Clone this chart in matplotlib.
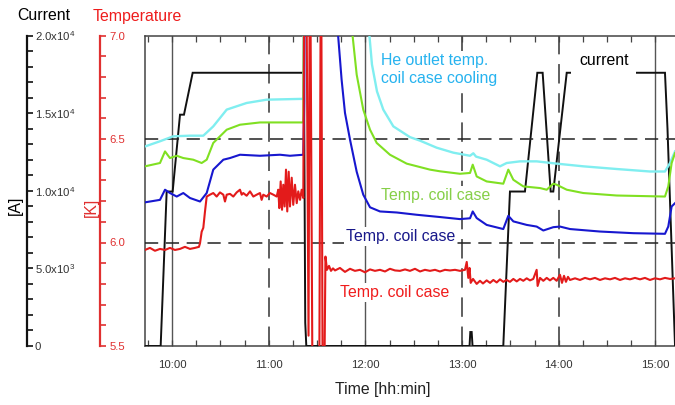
import matplotlib
matplotlib.use('Agg')
import matplotlib.pyplot as plt
from matplotlib.ticker import MultipleLocator

plt.rcParams['font.family'] = ['Liberation Sans', 'DejaVu Sans']
plt.rcParams['mathtext.fontset'] = 'custom'
plt.rcParams['mathtext.rm'] = 'Liberation Sans'
plt.rcParams['mathtext.it'] = 'Liberation Sans:italic'
plt.rcParams['mathtext.bf'] = 'Liberation Sans:bold'
plt.rcParams['mathtext.default'] = 'regular'
plt.rcParams['lines.scale_dashes'] = False

# ---------------- data (time in decimal hours) ----------------
current_t = [9.721, 9.883, 9.945, 10.007, 10.083, 10.124, 10.214, 11.365, 11.378, 11.389,
             13.077, 13.085, 13.099, 13.108, 13.426, 13.495, 13.650, 13.778, 13.833,
             13.916, 13.943, 14.082, 15.098, 15.124, 15.202]
current_A = [0, 0, 9950, 9950, 14900, 14900, 17600, 17600, 1500, 0,
             0, 900, 900, 0, 0, 9950, 9950, 17600, 17600,
             9950, 9950, 17600, 17600, 14000, 0]

cyan_t = [9.721, 9.876, 10.013, 10.186, 10.324, 10.427, 10.566, 10.772, 10.979, 11.358,
          11.368, 12.022, 12.032, 12.068, 12.120, 12.185, 12.289, 12.461, 12.565, 12.737,
          12.909, 13.082, 13.116, 13.144, 13.254, 13.392, 13.461, 13.599, 13.771, 13.978,
          14.253, 14.599, 14.943, 15.098, 15.150, 15.202]
cyan_K = [6.464, 6.489, 6.513, 6.516, 6.516, 6.561, 6.642, 6.674, 6.690, 6.694,
          7.600, 7.600, 7.050, 6.860, 6.730, 6.642, 6.561, 6.509, 6.492, 6.458,
          6.434, 6.419, 6.431, 6.415, 6.400, 6.368, 6.384, 6.392, 6.392, 6.381,
          6.368, 6.355, 6.343, 6.343, 6.384, 6.440]

green_t = [9.721, 9.876, 9.928, 9.979, 10.049, 10.117, 10.220, 10.307, 10.359, 10.427,
           10.566, 10.703, 10.910, 11.358, 11.370, 11.851, 11.856, 11.910, 11.978, 12.048,
           12.117, 12.254, 12.427, 12.668, 12.771, 12.978, 13.082, 13.110, 13.151, 13.254,
           13.426, 13.478, 13.530, 13.633, 13.806, 13.875, 13.943, 13.978, 14.082, 14.253,
           14.599, 15.098, 15.132, 15.167, 15.202]
green_K = [6.368, 6.384, 6.440, 6.408, 6.419, 6.408, 6.400, 6.384, 6.400, 6.481,
           6.545, 6.569, 6.580, 6.580, 7.600, 7.600, 7.050, 6.811, 6.642, 6.545,
           6.481, 6.424, 6.381, 6.352, 6.344, 6.332, 6.336, 6.376, 6.319, 6.295,
           6.284, 6.352, 6.303, 6.271, 6.263, 6.255, 6.284, 6.279, 6.255, 6.239,
           6.227, 6.222, 6.271, 6.384, 6.432]

blue_t = [9.721, 9.876, 9.928, 9.979, 10.049, 10.117, 10.186, 10.290, 10.359, 10.427,
          10.531, 10.600, 10.703, 10.910, 11.117, 11.220, 11.358, 11.368, 11.375, 11.696,
          11.701, 11.754, 11.789, 11.841, 11.910, 11.978, 12.048, 12.151, 12.324, 12.530,
          12.771, 12.978, 13.082, 13.110, 13.151, 13.254, 13.426, 13.478, 13.530, 13.668,
          13.771, 13.840, 13.943, 14.012, 14.116, 14.426, 14.771, 15.098, 15.132, 15.167,
          15.202]
blue_K = [6.194, 6.206, 6.255, 6.239, 6.222, 6.239, 6.215, 6.198, 6.239, 6.352,
          6.400, 6.408, 6.424, 6.419, 6.424, 6.419, 6.424, 6.682, 7.600, 7.600,
          7.100, 6.787, 6.626, 6.497, 6.342, 6.231, 6.170, 6.150, 6.145, 6.134,
          6.123, 6.113, 6.117, 6.150, 6.118, 6.085, 6.065, 6.129, 6.102, 6.085,
          6.077, 6.058, 6.074, 6.077, 6.065, 6.053, 6.045, 6.042, 6.077, 6.174,
          6.190]

red_t = [9.721, 9.772, 9.824, 9.876, 9.928, 9.979, 10.031, 10.083, 10.134, 10.186,
         10.238, 10.279, 10.290, 10.307, 10.324, 10.341, 10.359, 10.393, 10.427, 10.462,
         10.496, 10.531, 10.548, 10.566, 10.600, 10.634, 10.669, 10.703, 10.721, 10.737,
         10.772, 10.807, 10.841, 10.876, 10.910, 10.927, 10.944, 10.979, 11.013, 11.048,
         11.083, 11.099, 11.110, 11.124, 11.138, 11.151, 11.165, 11.179, 11.192, 11.207,
         11.220, 11.238, 11.254, 11.272, 11.290, 11.306, 11.324, 11.341, 11.358,
         11.370, 11.386, 11.412, 11.427, 11.453, 11.523, 11.541, 11.558, 11.575, 11.587,
         11.603, 11.624, 11.644, 11.665, 11.686, 11.737, 11.789, 11.841, 11.892, 11.944,
         11.996, 12.048, 12.099, 12.151, 12.203, 12.254, 12.306, 12.358, 12.410, 12.461,
         12.513, 12.565, 12.616, 12.668, 12.720, 12.771, 12.823, 12.875, 12.927, 12.978,
         13.030, 13.048, 13.064, 13.077, 13.089, 13.113, 13.151, 13.185, 13.216, 13.254,
         13.289, 13.323, 13.358, 13.392, 13.426, 13.461, 13.495, 13.530, 13.565, 13.599,
         13.633, 13.668, 13.702, 13.736, 13.771, 13.781, 13.806, 13.840, 13.875, 13.909,
         13.943, 13.978, 14.012, 14.033, 14.054, 14.074, 14.095, 14.116, 14.168, 14.219,
         14.271, 14.323, 14.374, 14.426, 14.478, 14.530, 14.581, 14.633, 14.685, 14.736,
         14.788, 14.840, 14.891, 14.943, 14.995, 15.047, 15.098, 15.150, 15.202]
red_K = [5.964, 5.974, 5.960, 5.969, 5.964, 5.974, 5.964, 5.969, 5.979, 5.969,
         5.974, 5.979, 5.997, 6.052, 6.071, 6.148, 6.222, 6.231, 6.239, 6.222,
         6.242, 6.231, 6.198, 6.231, 6.235, 6.222, 6.242, 6.255, 6.231, 6.239,
         6.226, 6.247, 6.222, 6.231, 6.239, 6.206, 6.231, 6.222, 6.239, 6.231,
         6.222, 6.255, 6.166, 6.295, 6.158, 6.279, 6.174, 6.352, 6.150, 6.342,
         6.174, 6.313, 6.182, 6.279, 6.190, 6.247, 6.206, 6.255, 6.215,
         7.600, 7.600, 5.550, 7.600, 5.300, 5.300, 7.600, 5.300, 5.300, 5.932,
         5.868, 5.887, 5.863, 5.875, 5.865, 5.877, 5.858, 5.873, 5.863, 5.868,
         5.856, 5.870, 5.863, 5.868, 5.860, 5.873, 5.865, 5.863, 5.870, 5.863,
         5.873, 5.860, 5.868, 5.863, 5.868, 5.860, 5.868, 5.865, 5.868, 5.863,
         5.868, 5.906, 5.829, 5.877, 5.805, 5.824, 5.800, 5.815, 5.802, 5.817,
         5.805, 5.819, 5.807, 5.822, 5.810, 5.819, 5.810, 5.824, 5.812, 5.824,
         5.815, 5.827, 5.817, 5.824, 5.868, 5.790, 5.829, 5.815, 5.829, 5.817,
         5.829, 5.815, 5.844, 5.805, 5.839, 5.810, 5.834, 5.819, 5.827, 5.819,
         5.829, 5.822, 5.829, 5.819, 5.827, 5.822, 5.829, 5.819, 5.827, 5.822,
         5.829, 5.822, 5.829, 5.819, 5.827, 5.822, 5.829, 5.824, 5.827]

hour_ticks = [10, 11, 12, 13, 14, 15]
hour_labels = ['10:00', '11:00', '12:00', '13:00', '14:00', '15:00']
hour_grid_styles = ['solid', 'dashed', 'solid', 'dashed', 'dashed', 'solid']
temp_grid = [6.0, 6.5]
current_ticks = [0, 5000, 10000, 15000, 20000]
current_tick_labels = ['0', '5.0x10$^3$', '1.0x10$^4$', '1.5x10$^4$', '2.0x10$^4$']
temp_ticks = [5.5, 6.0, 6.5, 7.0]
temp_tick_labels = ['5.5', '6.0', '6.5', '7.0']

# ---------------- layout ----------------
W, H = 675, 405
fig = plt.figure(figsize=(6.75, 4.05), dpi=100)
fig.patch.set_facecolor('white')


def fx(px):
    return px / W


def fy(py):
    return 1 - py / H


TOP, BOT = 35.5, 346
rect = [fx(145), fy(BOT), fx(676) - fx(145), fy(TOP) - fy(BOT)]
XLIM = (9.721, 15.212)
ILIM = (0, 20000)
TLIM = (5.5, 7.0)

C_BLACK = '#111111'
C_CYAN = '#80eef0'
C_GREEN = '#80e022'
C_BLUE = '#1717cf'
C_RED = '#e31b1b'
C_AXRED = '#e03030'

# current axes (bottom layer)
axI = fig.add_axes(rect)
axI.set_xlim(*XLIM)
axI.set_ylim(*ILIM)
for h, st in zip(hour_ticks, hour_grid_styles):
    if st == 'solid':
        axI.axvline(h, color='#555555', lw=1.0, zorder=1)
    else:
        ln = axI.axvline(h, color='#333333', lw=1.1, zorder=1)
        ln.set_dashes((14, 7))
axI.plot(current_t, current_A, color=C_BLACK, lw=1.4, zorder=3, solid_joinstyle='miter')
axI.set_xticks(hour_ticks)
axI.set_xticklabels(hour_labels)
axI.xaxis.set_minor_locator(MultipleLocator(0.25))
axI.tick_params(axis='x', which='both', direction='in', top=True, bottom=True,
                length=4, width=0.9, color='#444444', labelsize=8.2, labelcolor='#333333', pad=10)
axI.tick_params(axis='y', which='both', left=False, right=False, labelleft=False)
for s in ['left', 'top', 'bottom']:
    axI.spines[s].set_color('#444444')
    axI.spines[s].set_linewidth(1.1)
axI.spines['right'].set_visible(False)

# temperature axes (top layer)
axT = fig.add_axes(rect, facecolor='none')
axT.set_xlim(*XLIM)
axT.set_ylim(*TLIM)
for v in temp_grid:
    ln = axT.axhline(v, color='#222222', lw=1.1, zorder=1)
    ln.set_dashes((9.5, 5.5))
axT.plot(cyan_t, cyan_K, color=C_CYAN, lw=1.7, zorder=3)
axT.plot(green_t, green_K, color=C_GREEN, lw=1.5, zorder=3)
axT.plot(blue_t, blue_K, color=C_BLUE, lw=1.5, zorder=3)
axT.plot(red_t, red_K, color=C_RED, lw=1.5, zorder=4)
axT.set_xticks([])
axT.set_yticks([])
for s in axT.spines.values():
    s.set_visible(False)

# left current scale
axC = fig.add_axes([fx(27), fy(BOT), 0.0001, fy(TOP) - fy(BOT)])
axC.set_ylim(*ILIM)
axC.patch.set_visible(False)
for s in ['left', 'top', 'bottom']:
    axC.spines[s].set_visible(False)
axC.spines['right'].set_color(C_BLACK)
axC.spines['right'].set_linewidth(1.6)
axC.set_xticks([])
axC.yaxis.tick_right()
axC.set_yticks(current_ticks)
axC.set_yticklabels(current_tick_labels)
axC.yaxis.set_minor_locator(MultipleLocator(1000))
axC.tick_params(axis='y', which='both', direction='out', length=4, width=1.2,
                color=C_BLACK, labelsize=8.2, labelcolor='#333333', pad=1.5)

# temperature scale
axK = fig.add_axes([fx(100), fy(BOT), 0.0001, fy(TOP) - fy(BOT)])
axK.set_ylim(*TLIM)
axK.patch.set_visible(False)
for s in ['left', 'top', 'bottom']:
    axK.spines[s].set_visible(False)
axK.spines['right'].set_color(C_AXRED)
axK.spines['right'].set_linewidth(1.6)
axK.set_xticks([])
axK.yaxis.tick_right()
axK.set_yticks(temp_ticks)
axK.set_yticklabels(temp_tick_labels)
axK.yaxis.set_minor_locator(MultipleLocator(0.1))
axK.tick_params(axis='y', which='both', direction='out', length=4, width=1.2,
                color=C_AXRED, labelsize=8.2, labelcolor=C_AXRED, pad=3)

# ---------------- texts ----------------
FS = 11.4
fig.text(fx(17), fy(20.5), 'Current', fontsize=FS, color='black', va='baseline')
fig.text(fx(93), fy(20.5), 'Temperature', fontsize=FS, color='#ee1c1c', va='baseline')
fig.text(fx(15), fy(205), '[A]', fontsize=FS, color='black', rotation=90,
         ha='center', va='center')
fig.text(fx(91), fy(207), '[K]', fontsize=FS, color=C_AXRED, rotation=90,
         ha='center', va='center')
fig.text(fx(383), fy(394), 'Time [hh:min]', fontsize=FS, color='#222222',
         ha='center', va='baseline')

box = dict(boxstyle='square,pad=0.12', fc='white', ec='none')
fig.text(fx(381), fy(65), 'He outlet temp.', fontsize=FS, color='#27b3ef',
         va='baseline', bbox=box, zorder=5)
fig.text(fx(381), fy(83.5), 'coil case cooling', fontsize=FS, color='#27b3ef',
         va='baseline', bbox=box, zorder=5)
fig.text(fx(579), fy(65), 'current', fontsize=FS, color='black', va='baseline',
         bbox=dict(boxstyle='square,pad=0.5', fc='white', ec='none'), zorder=5)
fig.text(fx(381), fy(200), 'Temp. coil case', fontsize=FS, color='#86cf48',
         va='baseline', bbox=box, zorder=5)
fig.text(fx(346), fy(241), 'Temp. coil case', fontsize=FS, color='#18188a',
         va='baseline', bbox=box, zorder=5)
fig.text(fx(340), fy(297), 'Temp. coil case', fontsize=FS, color='#f01c1c',
         va='baseline', bbox=box, zorder=5)

fig.savefig('out.png', dpi=100, facecolor='white')
